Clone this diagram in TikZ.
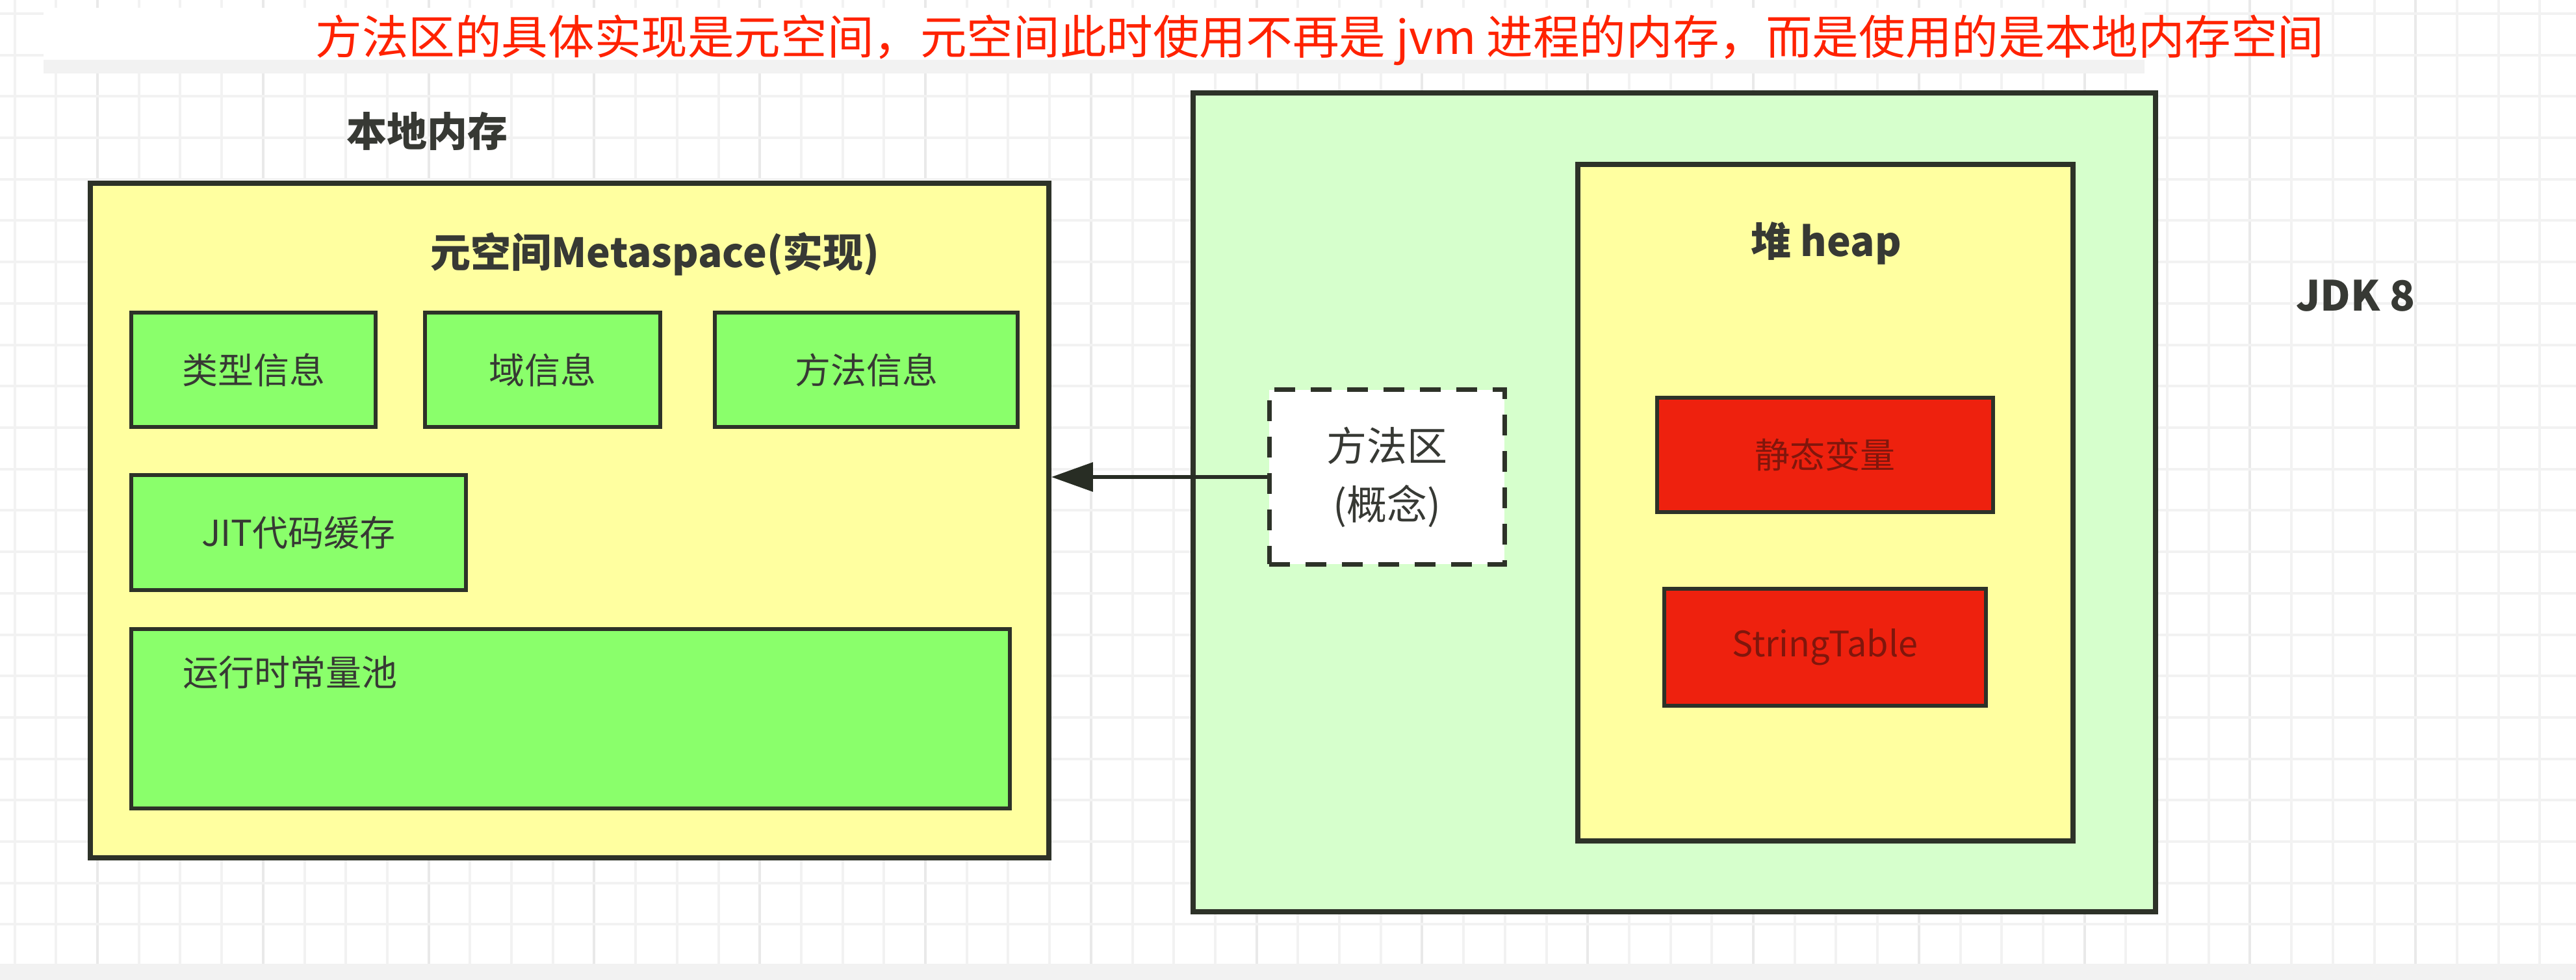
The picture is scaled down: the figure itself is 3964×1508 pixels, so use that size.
\documentclass[tikz,border=0pt]{standalone}
\usepackage{fontspec}
\setmainfont{Noto Sans CJK SC}
\usetikzlibrary{arrows.meta,positioning}
\definecolor{memyellow}{RGB}{255,255,160}
\definecolor{jvmgreen}{RGB}{214,255,204}
\definecolor{infogreen}{RGB}{138,255,107}
\definecolor{hotred}{RGB}{238,33,14}
\definecolor{hotink}{RGB}{128,22,12}
\definecolor{inkgray}{RGB}{55,57,52}
\definecolor{edgedark}{RGB}{45,50,40}
\definecolor{notered}{RGB}{255,34,0}
\definecolor{gridgray}{RGB}{242,242,242}
\definecolor{gridmajor}{RGB}{233,233,233}
\definecolor{bandgray}{RGB}{242,242,242}

\begin{document}
\begin{tikzpicture}[
  x=0.25pt, y=-0.25pt,
  frame/.style={draw=edgedark, line width=1.9pt},
  info/.style={draw=edgedark, line width=1.5pt, fill=infogreen, text=inkgray,
               minimum height=44pt, font=\fontsize{13.75}{16}\selectfont},
  hot/.style={draw=edgedark, line width=1.5pt, fill=hotred, text=hotink,
              minimum height=44pt, font=\fontsize{13.5}{16}\selectfont},
  concept/.style={draw=edgedark, line width=1.75pt, dash pattern=on 8pt off 6pt,
                  fill=white, text=inkgray, align=center,
                  font=\fontsize{15.5}{22.5}\selectfont},
  lbl/.style={text=inkgray, inner sep=0pt, font=\bfseries\fontsize{15.5}{18}\selectfont},
  conn/.style={draw=edgedark!90!black, line width=1.5pt, -{Triangle[length=16pt,width=11pt]}},
  gridline/.style={draw=gridgray, line width=1pt}]
\useasboundingbox (0,0) rectangle (3964,1508);
\fill[white] (0,0) rectangle (3964,1508);
\foreach \i in {0,...,61} \draw[gridline] ({22.6+63.7*\i},0) -- ++(0,1483);
\foreach \i in {0,...,14} \draw[gridline, draw=gridmajor] ({150+254.8*\i},0) -- ++(0,1483);
\foreach \j in {0,...,22} \draw[gridline] (0,{21+63.7*\j}) -- ++(3964,0);
\fill[bandgray] (0,1483) rectangle (3964,1508);
\fill[white] (67,12) rectangle (3300,92);
\fill[bandgray] (67,92) rectangle (3300,113);

\node[text=notered, font=\fontsize{17.9}{20}\selectfont] (note) at (2031,62)
  {方法区的具体实现是元空间，元空间此时使用不再是 jvm 进程的内存，而是使用的是本地内存空间};

\node[frame, fill=memyellow, minimum width=368.75pt, minimum height=259.5pt] (native) at (876.5,801) {};
\node[lbl] (nativet) at (657,202) {本地内存};
\node[lbl] (metat) at (1008,391) {元空间Metaspace(实现)};
\node[info, minimum width=94pt] (type) at (390,569.5) {类型信息};
\node[info, minimum width=90.5pt, right=17.5pt of type] (field) {域信息};
\node[info, minimum width=116.5pt, right=19.5pt of field] (method) {方法信息};
\node[info, minimum width=128.75pt, below=17pt of type.south west, anchor=north west] (jit) {JIT代码缓存};
\node[info, minimum width=338pt, minimum height=69pt, below=13.5pt of jit.south west, anchor=north west] (pool) {};
\node[anchor=west, inner sep=0pt, text=inkgray, font=\fontsize{13.75}{16}\selectfont] (poolt)
  at ([shift={(82,70)}]pool.north west) {运行时常量池};

\node[frame, fill=jvmgreen, minimum width=370.25pt, minimum height=315pt] (jvm) at (2576.5,773) {};
\node[frame, fill=memyellow, minimum width=190.5pt, minimum height=260.25pt] (heap) at (2809,773.5) {};
\node[lbl] (heapt) at (2810,374) {堆 heap};
\node[hot, minimum width=129.25pt] (static) at (2808.5,700) {静态变量};
\node[hot, minimum width=123.75pt, minimum height=45pt, below=28pt of static] (strtab) {StringTable};
\node[concept, minimum width=90.5pt, minimum height=67pt] (mad) at (2134,734) {方法区\\(概念)};
\node[lbl, font=\bfseries\fontsize{16}{18}\selectfont] (jdk) at (3625,455) {JDK 8};

\draw[conn] (mad.west) -- (mad.west -| native.east);
\end{tikzpicture}
\end{document}
